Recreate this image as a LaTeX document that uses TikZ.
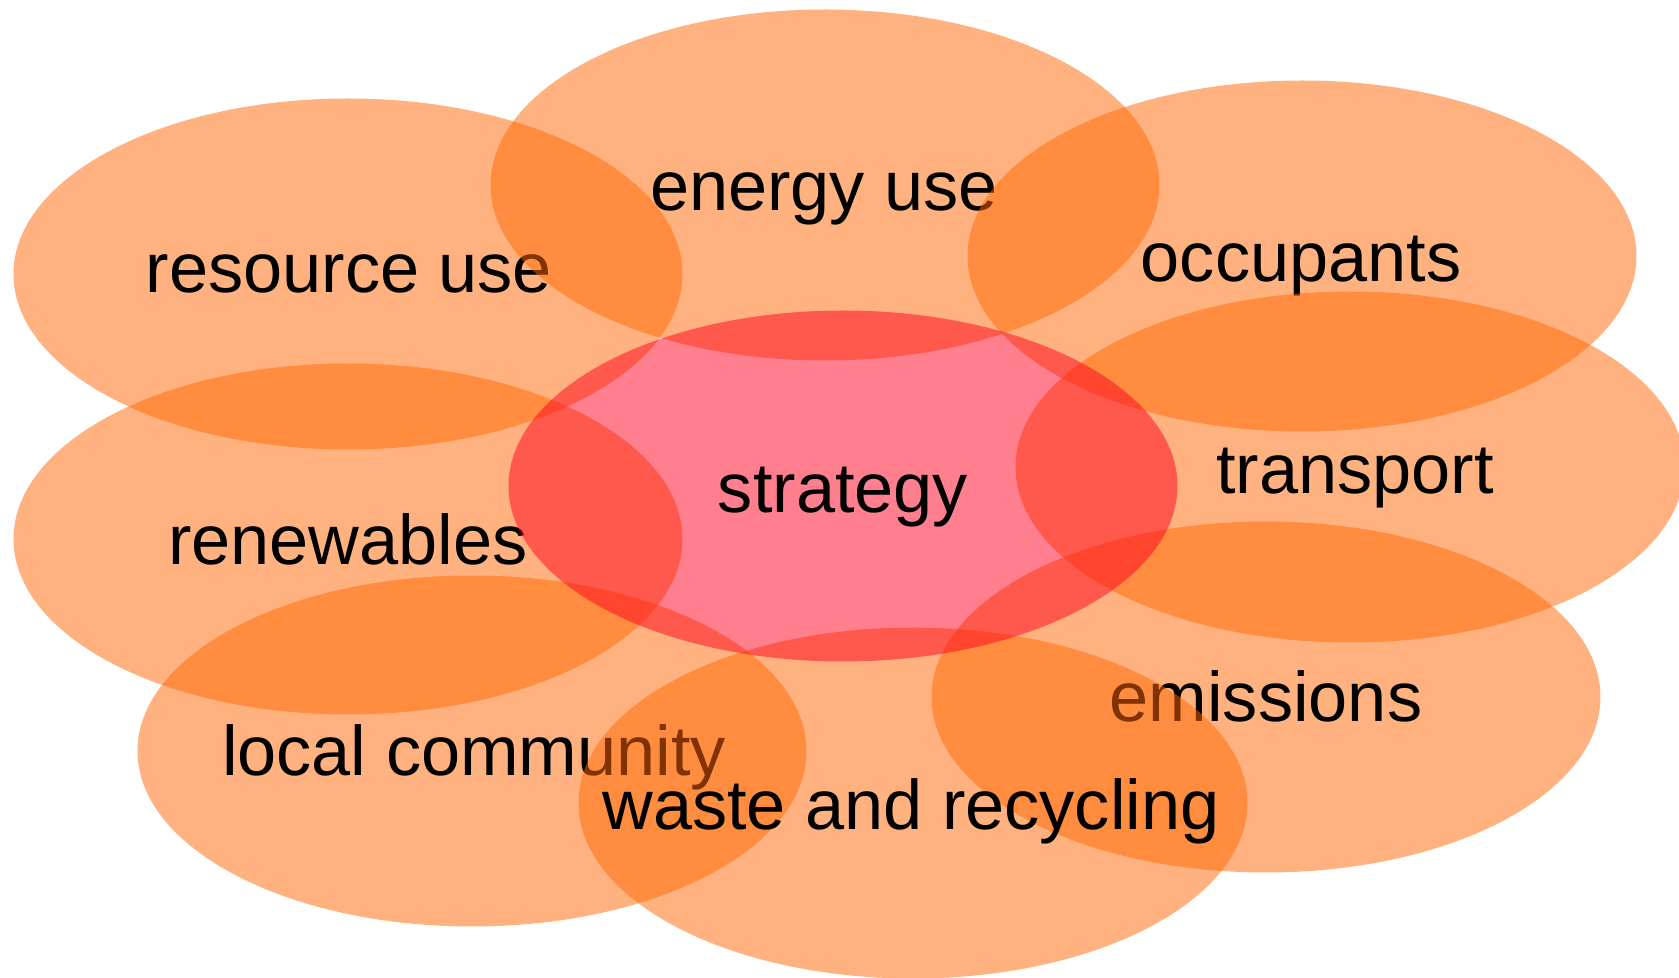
\documentclass[tikz,border=0pt]{standalone}
\usepackage{fontspec}
\setmainfont{Liberation Sans}
\usetikzlibrary{shapes.geometric}

\definecolor{petalorange}{RGB}{255,102,0}
\definecolor{corered}{RGB}{255,0,30}

\begin{document}
\begin{tikzpicture}[
        font=\fontsize{20}{24}\selectfont,
        petal/.style={ellipse, draw=none, fill=petalorange, fill opacity=0.5, inner sep=0pt, minimum width=6.69cm, minimum height=3.51cm},
        core/.style={petal, fill=corered, fill opacity=0.5},
        word/.style={anchor=base, inner sep=0pt, text=black}
    ]
    \useasboundingbox (0,0) rectangle (16.79,9.78);

    % Upper row
    \node[petal] (resource) at (3.48,7.04) {};
    \node[word] (resourcetxt) at (3.49,6.85) {resource use};
    \node[petal] (energy) at (8.25,7.93) {};
    \node[word] (energytxt) at (8.24,7.67) {energy use};
    \node[petal] (occupants) at (13.02,7.22) {};
    \node[word] (occupantstxt) at (13.01,6.96) {occupants};

    % Right side
    \node[petal] (transport) at (13.50,5.11) {};
    \node[word] (transporttxt) at (13.55,4.84) {transport};
    \node[petal] (emissions) at (12.66,2.81) {};
    \node[word] (emissionstxt) at (12.66,2.56) {emissions};

    % Lower row
    \node[petal] (local) at (4.72,2.27) {};
    \node[word] (localtxt) at (4.74,2.02) {local community};
    \node[petal] (waste) at (9.13,1.75) {};
    \node[word] (wastetxt) at (9.11,1.48) {waste and recycling};

    % Left side
    \node[petal] (renewables) at (3.48,4.39) {};
    \node[word] (renewablestxt) at (3.48,4.13) {renewables};

    % Centre
    \node[core] (strategy) at (8.43,4.92) {};
    \node[word] (strategytxt) at (8.43,4.65) {strategy};

\end{tikzpicture}
\end{document}
